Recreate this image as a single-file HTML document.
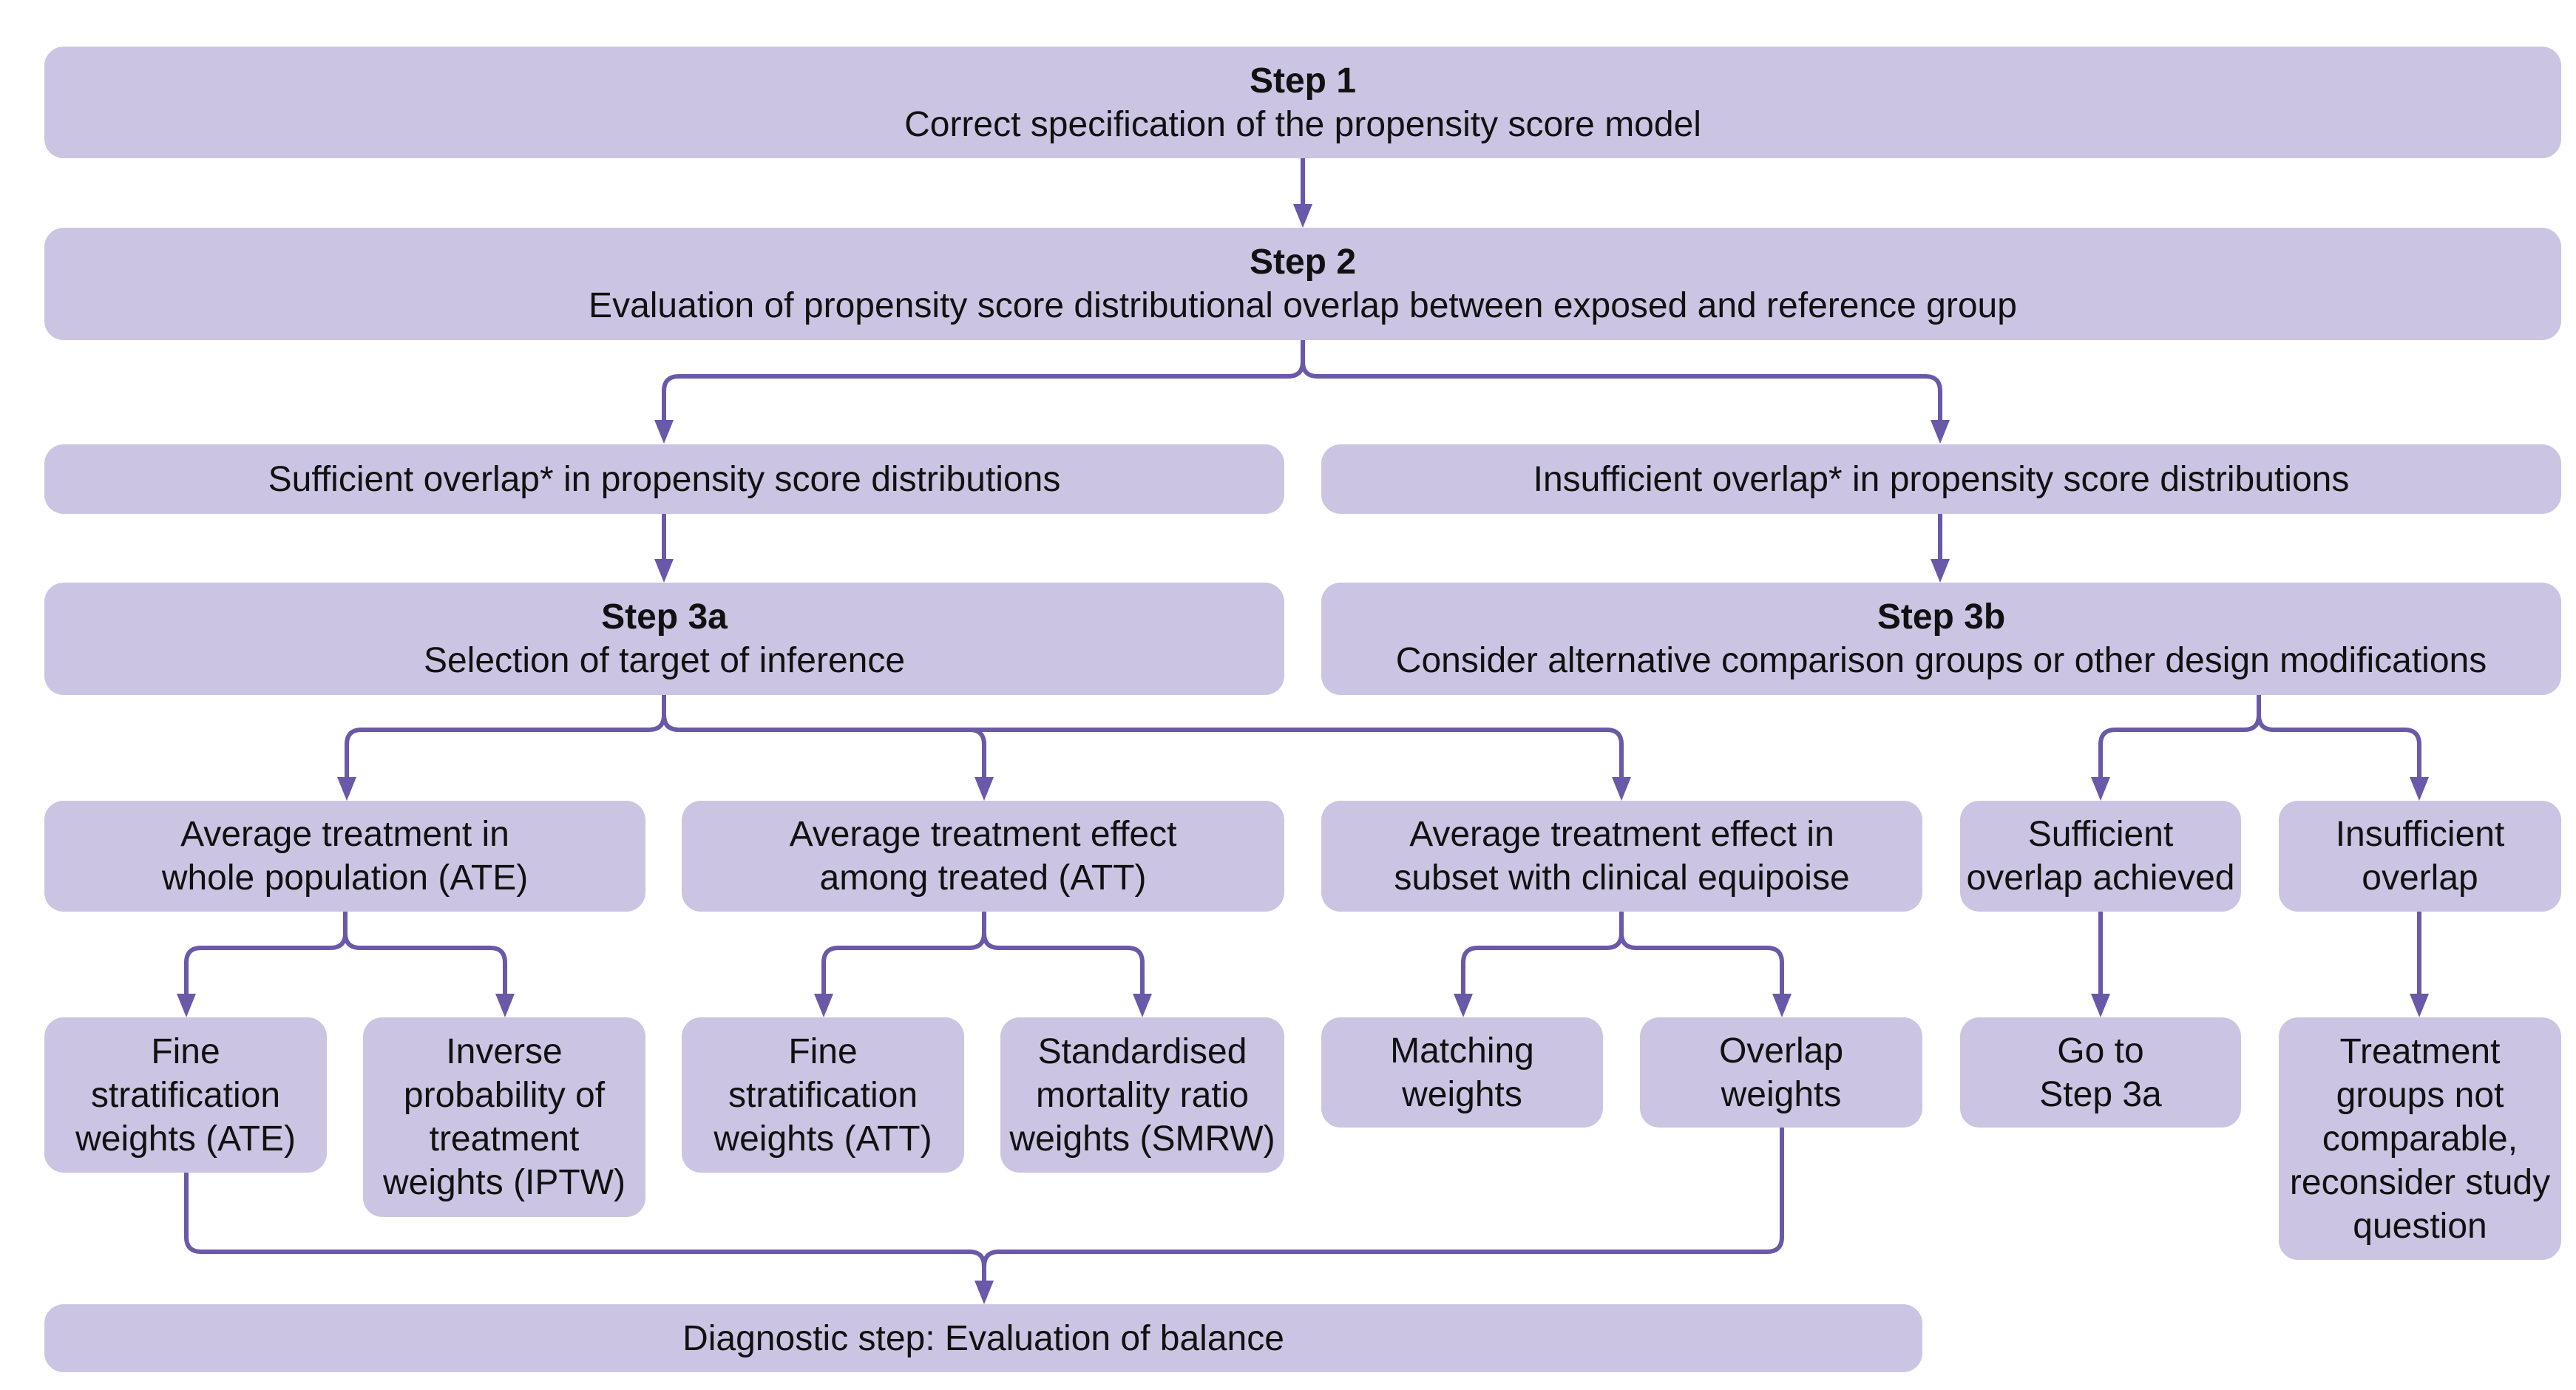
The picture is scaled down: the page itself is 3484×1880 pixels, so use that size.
<!DOCTYPE html>
<html><head><meta charset="utf-8"><style>
html,body{margin:0;padding:0;background:#fff;}
body{width:3484px;height:1880px;position:relative;overflow:hidden;font-family:"Liberation Sans",sans-serif;}
.b{position:absolute;background:#cbc5e3;border-radius:26px;display:flex;align-items:center;justify-content:center;text-align:center;font-size:48px;line-height:59px;color:#111;white-space:nowrap;}
.b b{font-weight:bold;}
svg{position:absolute;left:0;top:0;}
</style></head><body>
<div class="b" style="left:60px;top:63px;width:3404px;height:151px;"><div><b>Step 1</b><br>Correct specification of the propensity score model</div></div>
<div class="b" style="left:60px;top:308px;width:3404px;height:152px;"><div><b>Step 2</b><br>Evaluation of propensity score distributional overlap between exposed and reference group</div></div>
<div class="b" style="left:60px;top:601px;width:1677px;height:94px;"><div>Sufficient overlap* in propensity score distributions</div></div>
<div class="b" style="left:1787px;top:601px;width:1677px;height:94px;"><div>Insufficient overlap* in propensity score distributions</div></div>
<div class="b" style="left:60px;top:788px;width:1677px;height:152px;"><div><b>Step 3a</b><br>Selection of target of inference</div></div>
<div class="b" style="left:1787px;top:788px;width:1677px;height:152px;"><div><b>Step 3b</b><br>Consider alternative comparison groups or other design modifications</div></div>

<div class="b" style="left:60px;top:1083px;width:813px;height:150px;"><div>Average treatment in<br>whole population (ATE)</div></div>
<div class="b" style="left:922px;top:1083px;width:815px;height:150px;"><div>Average treatment effect<br>among treated (ATT)</div></div>
<div class="b" style="left:1787px;top:1083px;width:813px;height:150px;"><div>Average treatment effect in<br>subset with clinical equipoise</div></div>
<div class="b" style="left:2651px;top:1083px;width:380px;height:150px;"><div>Sufficient<br>overlap achieved</div></div>
<div class="b" style="left:3082px;top:1083px;width:382px;height:150px;"><div>Insufficient<br>overlap</div></div>

<div class="b" style="left:60px;top:1376px;width:382px;height:210px;"><div>Fine<br>stratification<br>weights (ATE)</div></div>
<div class="b" style="left:491px;top:1376px;width:382px;height:270px;"><div>Inverse<br>probability of<br>treatment<br>weights (IPTW)</div></div>
<div class="b" style="left:922px;top:1376px;width:382px;height:210px;"><div>Fine<br>stratification<br>weights (ATT)</div></div>
<div class="b" style="left:1353px;top:1376px;width:384px;height:210px;"><div>Standardised<br>mortality ratio<br>weights (SMRW)</div></div>
<div class="b" style="left:1787px;top:1376px;width:381px;height:149px;"><div>Matching<br>weights</div></div>
<div class="b" style="left:2218px;top:1376px;width:382px;height:149px;"><div>Overlap<br>weights</div></div>
<div class="b" style="left:2651px;top:1376px;width:380px;height:149px;"><div>Go to<br>Step 3a</div></div>
<div class="b" style="left:3082px;top:1376px;width:382px;height:328px;"><div>Treatment<br>groups not<br>comparable,<br>reconsider study<br>question</div></div>

<div class="b" style="left:60px;top:1764px;width:2540px;height:92px;"><div>Diagnostic step: Evaluation of balance</div></div>

<svg width="3484" height="1880" viewBox="0 0 3484 1880">
<g fill="none" stroke="#6a58a8" stroke-width="6">
<path d="M1762 214 V280"/>
<path d="M1762 460 V489 Q1762 509 1742 509 H918 Q898 509 898 529 V572"/>
<path d="M1762 460 V489 Q1762 509 1782 509 H2604 Q2624 509 2624 529 V572"/>
<path d="M898 695 V760"/>
<path d="M2624 695 V760"/>
<path d="M898 940 V967 Q898 987 878 987 H489 Q469 987 469 1007 V1055"/>
<path d="M898 940 V967 Q898 987 918 987 H1311 Q1331 987 1331 1007 V1055"/>
<path d="M898 940 V967 Q898 987 918 987 H2173 Q2193 987 2193 1007 V1055"/>
<path d="M3055 940 V967 Q3055 987 3035 987 H2861 Q2841 987 2841 1007 V1055"/>
<path d="M3055 940 V967 Q3055 987 3075 987 H3252 Q3272 987 3272 1007 V1055"/>
<path d="M467 1233 V1262 Q467 1282 447 1282 H272 Q252 1282 252 1302 V1348"/>
<path d="M467 1233 V1262 Q467 1282 487 1282 H663 Q683 1282 683 1302 V1348"/>
<path d="M1331 1233 V1262 Q1331 1282 1311 1282 H1134 Q1114 1282 1114 1302 V1348"/>
<path d="M1331 1233 V1262 Q1331 1282 1351 1282 H1525 Q1545 1282 1545 1302 V1348"/>
<path d="M2193 1233 V1262 Q2193 1282 2173 1282 H1999 Q1979 1282 1979 1302 V1348"/>
<path d="M2193 1233 V1262 Q2193 1282 2213 1282 H2390 Q2410 1282 2410 1302 V1348"/>
<path d="M2841 1233 V1348"/>
<path d="M3272 1233 V1348"/>
<path d="M252 1586 V1673 Q252 1693 272 1693 H1311 Q1331 1693 1331 1713 V1736"/>
<path d="M2410 1525 V1673 Q2410 1693 2390 1693 H1351 Q1331 1693 1331 1713"/>
</g>
<g fill="#6a58a8">
<polygon points="1749,276 1775,276 1762,308"/>
<polygon points="885,568 911,568 898,600"/>
<polygon points="2611,568 2637,568 2624,600"/>
<polygon points="885,756 911,756 898,788"/>
<polygon points="2611,756 2637,756 2624,788"/>
<polygon points="456,1051 482,1051 469,1083"/>
<polygon points="1318,1051 1344,1051 1331,1083"/>
<polygon points="2180,1051 2206,1051 2193,1083"/>
<polygon points="2828,1051 2854,1051 2841,1083"/>
<polygon points="3259,1051 3285,1051 3272,1083"/>
<polygon points="239,1344 265,1344 252,1376"/>
<polygon points="670,1344 696,1344 683,1376"/>
<polygon points="1101,1344 1127,1344 1114,1376"/>
<polygon points="1532,1344 1558,1344 1545,1376"/>
<polygon points="1966,1344 1992,1344 1979,1376"/>
<polygon points="2397,1344 2423,1344 2410,1376"/>
<polygon points="2828,1344 2854,1344 2841,1376"/>
<polygon points="3259,1344 3285,1344 3272,1376"/>
<polygon points="1318,1732 1344,1732 1331,1764"/>
</g>
</svg>
</body></html>
